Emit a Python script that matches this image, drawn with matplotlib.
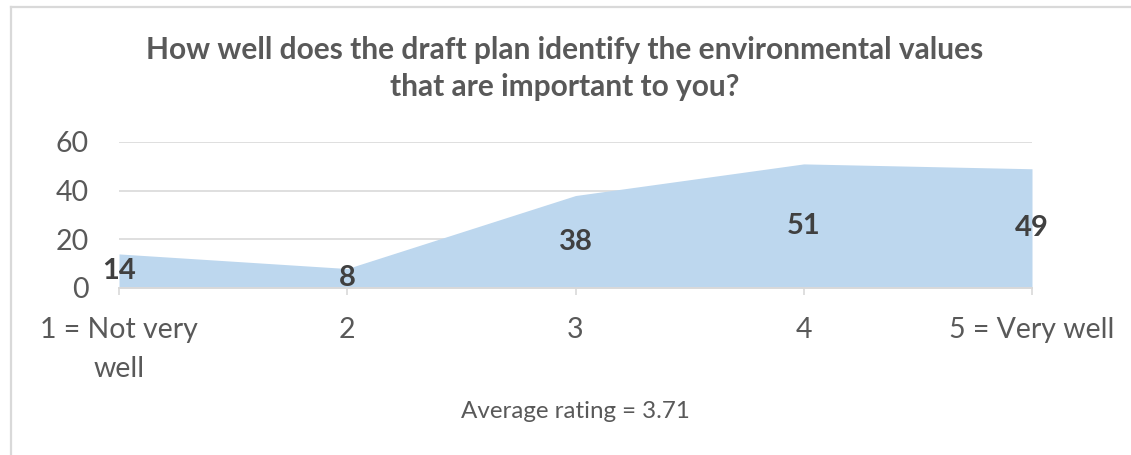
import matplotlib
matplotlib.use("Agg")
import matplotlib.pyplot as plt
from matplotlib.lines import Line2D

# Survey responses per rating
categories = ["1 = Not very\nwell", "2", "3", "4", "5 = Very well"]
counts = [14, 8, 38, 51, 49]
y_ticks = [0, 20, 40, 60]
title = "How well does the draft plan identify the environmental values\nthat are important to you?"
footnote = "Average rating = 3.71"

FONT = "Lato"
TEXT = "#595959"
LABEL = "#404040"
GRID = "#D9D9D9"
FILL = "#BDD7EE"

W, H = 1131, 455
PX = 72 / 100  # points per pixel at 100 dpi
fig = plt.figure(figsize=(W / 100, H / 100), dpi=100)
fig.patch.set_facecolor("white")

# Chart frame (top and left edges)
fig.add_artist(Line2D([11 / W, 1], [1 - 6.5 / H, 1 - 6.5 / H], color=GRID, lw=1.6,
                      transform=fig.transFigure))
fig.add_artist(Line2D([11 / W, 11 / W], [0, 1 - 6.5 / H], color=GRID, lw=1.6,
                      transform=fig.transFigure))

left, right = 119 / W, 1032 / W
bottom, top = 1 - 288 / H, 1 - 142 / H
ax = fig.add_axes([left, bottom, right - left, top - bottom])

x = list(range(len(categories)))
ax.fill_between(x, counts, 0, color=FILL, lw=0, zorder=2)

ax.set_xlim(0, len(categories) - 1)
ax.set_ylim(y_ticks[0], y_ticks[-1])
ax.set_yticks(y_ticks)
ax.set_yticklabels([str(v) for v in y_ticks], fontsize=20.5, color=TEXT, family=FONT)
ax.tick_params(axis="y", length=0, pad=30 * PX)

ax.set_xticks(x)
ax.set_xticklabels(categories, fontsize=20.5, color=TEXT, family=FONT,
                   multialignment="center", linespacing=1.6)
ax.tick_params(axis="x", length=7 * PX, width=1.2, color=GRID, pad=22 * PX)

ax.grid(axis="y", color=GRID, lw=1.2, zorder=1)
ax.set_axisbelow(True)
for side in ["top", "right", "left"]:
    ax.spines[side].set_visible(False)
ax.spines["bottom"].set_color(GRID)
ax.spines["bottom"].set_linewidth(1.4)
ax.spines["bottom"].set_zorder(3)

# Value labels at half height of each point
for xi, v in zip(x, counts):
    ax.text(xi, v / 2, str(v), ha="center", va="center", fontsize=21,
            fontweight="bold", color=LABEL, family=FONT, zorder=4, clip_on=False)

fig.text(565 / W, 1 - 68.5 / H, title, ha="center", va="center", fontsize=21.5,
         fontweight="bold", color=TEXT, family=FONT, linespacing=1.35)
fig.text(575 / W, 1 - 412 / H, footnote, ha="center", va="center", fontsize=17.4,
         color=TEXT, family=FONT)

fig.savefig("out.png", dpi=100, facecolor="white")
